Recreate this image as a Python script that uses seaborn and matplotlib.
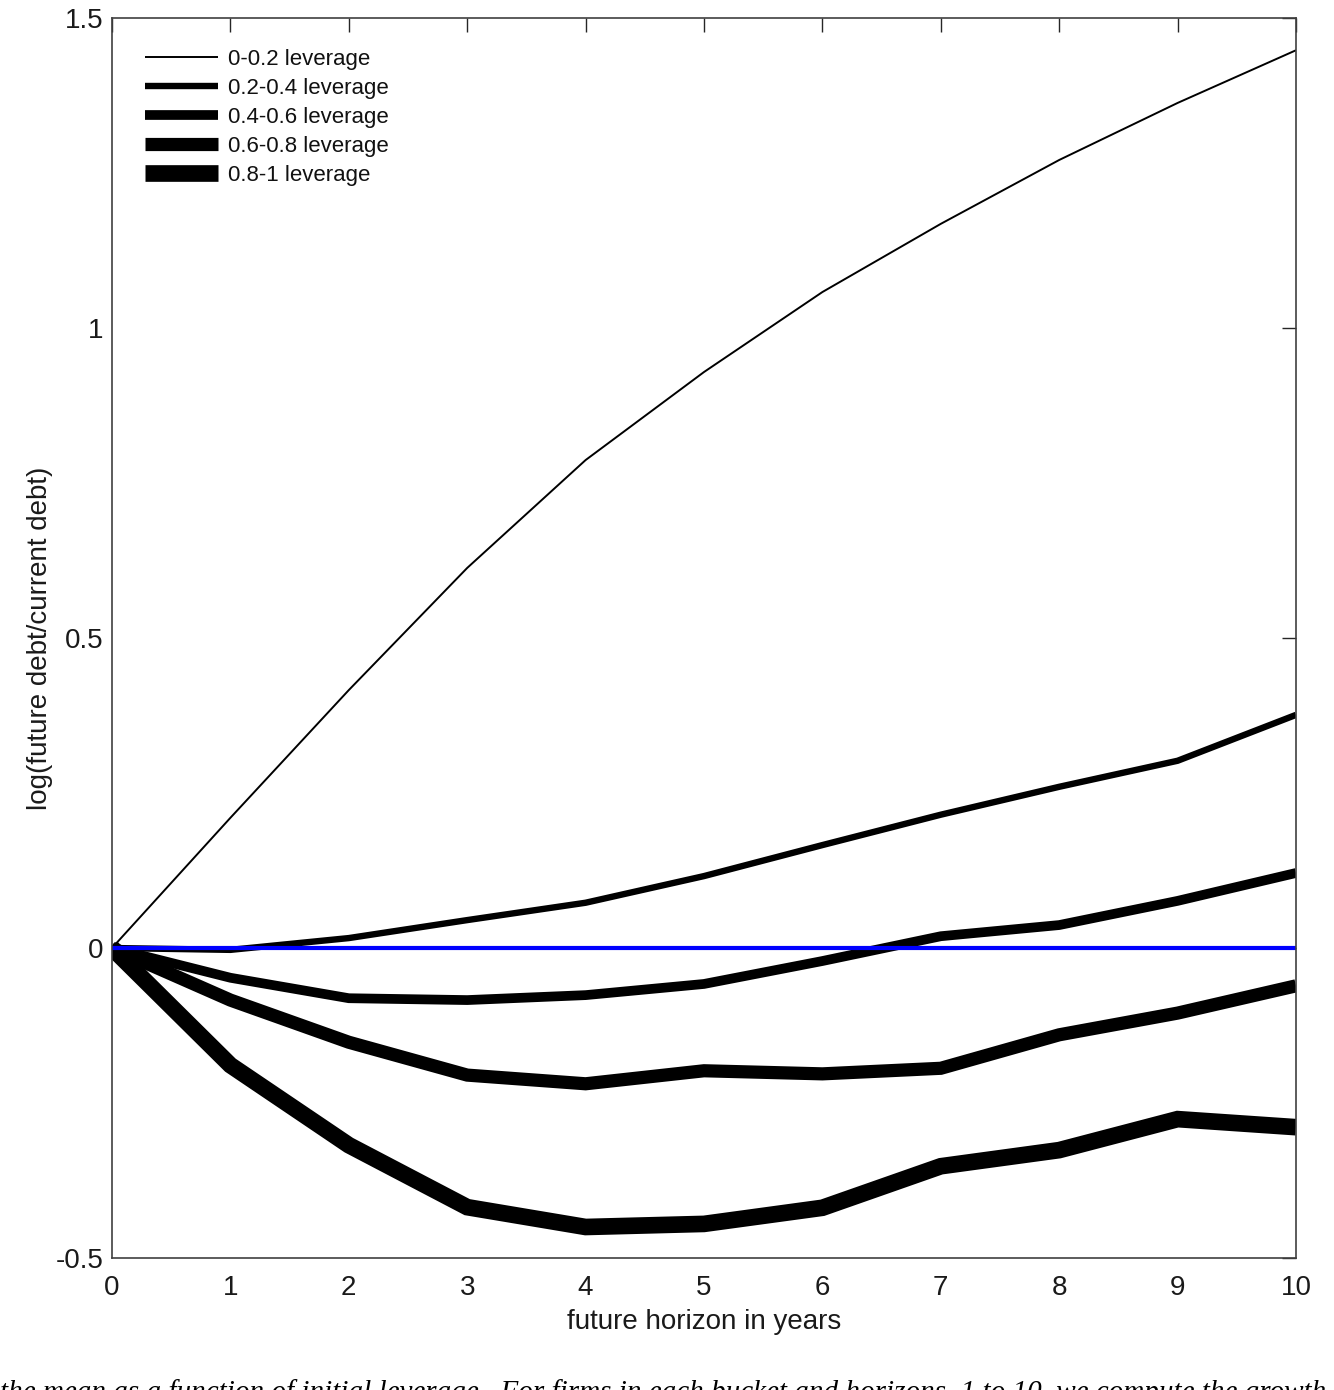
import numpy as np
import pandas as pd
import matplotlib
matplotlib.use("Agg")
import matplotlib.pyplot as plt
import seaborn as sns

horizon = [0, 1, 2, 3, 4, 5, 6, 7, 8, 9, 10]
lev_00_02 = [0, 0.21, 0.416, 0.613, 0.787, 0.929, 1.058, 1.168, 1.271, 1.363, 1.448]
lev_02_04 = [0, -0.003, 0.016, 0.045, 0.073, 0.116, 0.166, 0.215, 0.26, 0.302, 0.376]
lev_04_06 = [0, -0.048, -0.081, -0.084, -0.076, -0.058, -0.021, 0.019, 0.037, 0.076, 0.121]
lev_06_08 = [0, -0.084, -0.152, -0.205, -0.219, -0.198, -0.203, -0.194, -0.14, -0.105, -0.061]
lev_08_10 = [0, -0.189, -0.318, -0.418, -0.45, -0.445, -0.419, -0.352, -0.326, -0.276, -0.289]
labels = ["0-0.2 leverage", "0.2-0.4 leverage", "0.4-0.6 leverage", "0.6-0.8 leverage", "0.8-1 leverage"]
series = [lev_00_02, lev_02_04, lev_04_06, lev_06_08, lev_08_10]
widths = [1.4, 4.6, 7.0, 9.5, 12.0]
zero_line = [0] * len(horizon)

sns.set_theme(style="white")
plt.rcParams['font.family'] = ['Liberation Sans', 'DejaVu Sans']

fig = plt.figure(figsize=(13.34, 13.9), dpi=100)
ax = fig.add_axes([112/1334, 1 - 1258/1390, (1296-112)/1334, (1258-18)/1390])

for lab, vals, lw in zip(labels, series, widths):
    df = pd.DataFrame({"h": horizon, "v": vals})
    sns.lineplot(data=df, x="h", y="v", ax=ax, color="black", linewidth=lw, label=lab,
                 solid_joinstyle="miter", solid_capstyle="butt")

dz = pd.DataFrame({"h": horizon, "v": zero_line})
sns.lineplot(data=dz, x="h", y="v", ax=ax, color="#0000ff", linewidth=3.0, legend=False)

ax.set_xlim(0, 10)
ax.set_ylim(-0.5, 1.5)
ax.set_xticks(horizon)
ax.set_xticklabels([str(h) for h in horizon])
ax.set_yticks([-0.5, 0, 0.5, 1, 1.5])
ax.set_yticklabels(["-0.5", "0", "0.5", "1", "1.5"])
ax.tick_params(direction="in", length=10, width=1, colors="#262626", labelsize=20,
               top=True, right=True, labelcolor="#1a1a1a", pad=6)
ax.tick_params(axis="x", pad=12)
for s in ax.spines.values():
    s.set_color("#404040")
    s.set_linewidth(1.2)
ax.set_xlabel("future horizon in years", fontsize=20, color="#1a1a1a", labelpad=6)
ax.set_ylabel("log(future debt/current debt)", fontsize=20, color="#1a1a1a", labelpad=2)

leg = ax.legend(loc="upper left", frameon=False, fontsize=16, handlelength=3.3,
                handletextpad=0.45, labelspacing=0.36, borderaxespad=0.0,
                bbox_to_anchor=(0.02, 0.982))
for t in leg.get_texts():
    t.set_color("#111111")

fig.text(0.0, -0.002, "the mean as a function of initial leverage.  For firms in each bucket and horizons  1 to 10, we compute the growth calculated as  log",
         fontsize=21, style="italic", family=["Liberation Serif", "DejaVu Serif"],
         ha="left", va="center", color="black")

fig.savefig("out.png", dpi=100, facecolor="white")
